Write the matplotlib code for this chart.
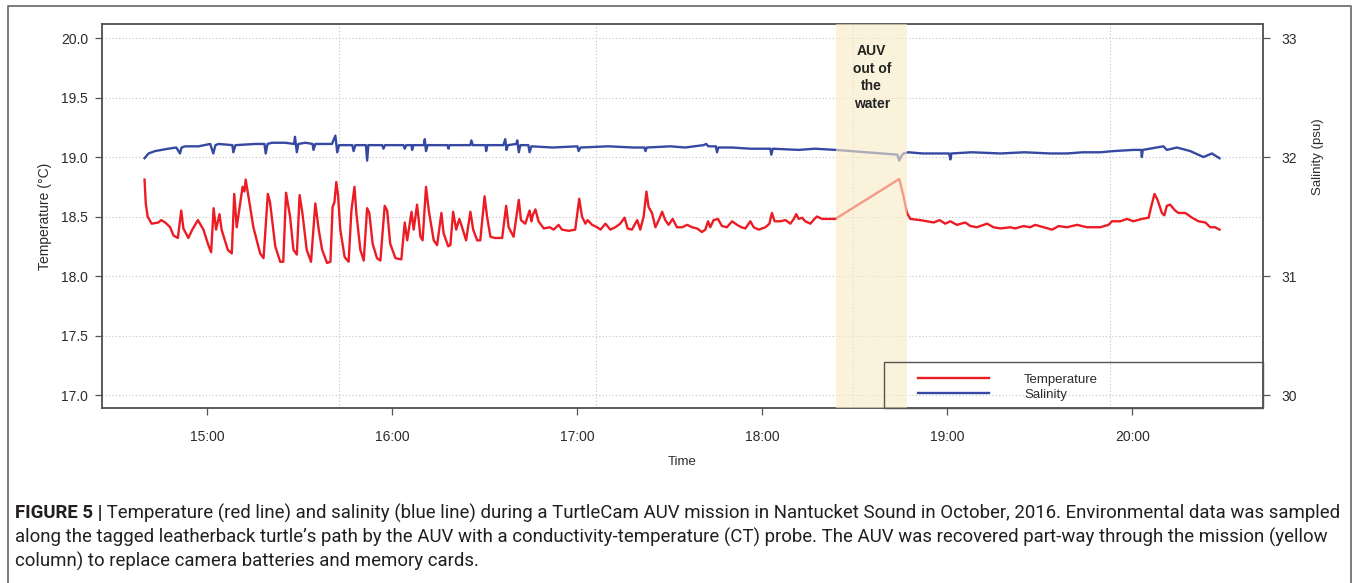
import matplotlib
matplotlib.use('Agg')
import matplotlib.pyplot as plt
from matplotlib.lines import Line2D
from matplotlib.patches import Rectangle

plt.rcParams['font.family'] = ['Liberation Sans', 'DejaVu Sans']

# ---------------- data (time in minutes after 14:00) ----------------
temp_minutes = [
    39.6, 40.0, 40.6, 41.9, 44.1, 45.0, 46.3, 47.9, 49.0, 50.4,
    51.5, 52.2, 53.8, 55.1, 56.9, 58.7, 60.3, 61.2, 62.0, 62.8,
    63.9, 64.6, 66.6, 67.9, 68.7, 69.5, 70.6, 71.4, 72.0, 72.4,
    73.3, 74.9, 77.1, 78.2, 79.6, 80.3, 82.0, 83.6, 84.6, 85.5,
    86.8, 87.9, 89.0, 89.9, 90.8, 92.2, 93.6, 95.0, 96.1, 97.2,
    98.8, 99.9, 100.6, 101.2, 101.8, 102.4, 103.1, 104.5, 105.8, 106.7,
    107.7, 108.3, 109.6, 110.7, 111.8, 112.5, 113.6, 115.0, 116.1, 117.5,
    118.3, 119.3, 121.0, 122.9, 124.0, 124.8, 126.2, 126.9, 128.0, 129.1,
    129.8, 130.9, 131.8, 133.4, 134.5, 135.9, 136.6, 138.1, 138.8, 139.7,
    140.7, 141.7, 142.6, 143.9, 145.3, 146.2, 147.5, 148.5, 149.9, 150.7,
    151.8, 153.2, 155.6, 156.9, 157.7, 159.3, 161.0, 161.7, 163.1, 164.5,
    165.1, 165.5, 166.4, 167.4, 169.1, 171.0, 172.3, 173.9, 175.0, 177.2,
    179.3, 180.6, 181.5, 182.6, 183.3, 184.8, 186.4, 187.5, 189.1, 190.7,
    192.3, 193.9, 195.3, 196.3, 197.7, 199.4, 200.4, 201.5, 202.4, 203.1,
    204.2, 205.3, 206.4, 207.5, 208.5, 209.6, 210.9, 212.3, 214.0, 215.6,
    217.2, 218.8, 220.4, 221.5, 222.4, 223.1, 224.2, 225.6, 226.9, 228.5,
    230.2, 231.8, 233.2, 234.5, 236.1, 237.2, 238.8, 241.0, 242.3, 243.1,
    244.0, 245.8, 247.5, 249.1, 250.2, 251.0, 251.8, 252.9, 253.9, 255.6,
    256.9, 257.7, 259.4, 262.6, 263.7, 284.4, 285.8, 286.9, 288.0, 291.2,
    293.4, 295.6, 297.5, 299.3, 301.0, 303.1, 305.8, 307.5, 309.6, 312.9,
    315.0, 317.2, 320.4, 322.0, 324.7, 326.9, 328.5, 331.2, 334.0, 336.1,
    338.8, 342.1, 345.3, 349.6, 352.3, 353.4, 356.1, 358.3, 360.4, 363.1,
    365.3, 366.1, 367.2, 368.2, 369.6, 370.4, 371.2, 372.3, 373.9, 375.0,
    377.2, 379.4, 381.5, 383.7, 385.3, 386.9, 388.3,
]
temp_values = [
    18.81, 18.61, 18.50, 18.44, 18.45, 18.47, 18.45, 18.41, 18.34, 18.32,
    18.55, 18.40, 18.32, 18.39, 18.47, 18.39, 18.26, 18.20, 18.57, 18.39,
    18.52, 18.39, 18.22, 18.19, 18.69, 18.41, 18.61, 18.75, 18.71, 18.81,
    18.67, 18.41, 18.19, 18.15, 18.69, 18.62, 18.25, 18.12, 18.12, 18.70,
    18.50, 18.22, 18.18, 18.68, 18.53, 18.22, 18.12, 18.61, 18.39, 18.22,
    18.11, 18.12, 18.58, 18.62, 18.79, 18.67, 18.39, 18.16, 18.12, 18.55,
    18.75, 18.53, 18.22, 18.13, 18.57, 18.53, 18.27, 18.15, 18.13, 18.59,
    18.55, 18.27, 18.15, 18.14, 18.45, 18.30, 18.54, 18.39, 18.60, 18.33,
    18.30, 18.75, 18.55, 18.30, 18.26, 18.53, 18.36, 18.25, 18.26, 18.54,
    18.39, 18.48, 18.41, 18.30, 18.54, 18.39, 18.30, 18.30, 18.67, 18.50,
    18.33, 18.32, 18.32, 18.59, 18.41, 18.33, 18.64, 18.47, 18.44, 18.55,
    18.46, 18.51, 18.56, 18.46, 18.40, 18.41, 18.39, 18.43, 18.39, 18.38,
    18.39, 18.65, 18.50, 18.44, 18.47, 18.43, 18.41, 18.39, 18.44, 18.39,
    18.41, 18.44, 18.49, 18.40, 18.39, 18.47, 18.39, 18.50, 18.71, 18.58,
    18.53, 18.41, 18.47, 18.54, 18.47, 18.43, 18.48, 18.41, 18.41, 18.43,
    18.41, 18.40, 18.37, 18.39, 18.46, 18.41, 18.47, 18.48, 18.42, 18.41,
    18.46, 18.43, 18.41, 18.40, 18.46, 18.41, 18.39, 18.41, 18.44, 18.53,
    18.46, 18.46, 18.47, 18.44, 18.48, 18.52, 18.48, 18.49, 18.46, 18.44,
    18.48, 18.50, 18.48, 18.48, 18.48, 18.815, 18.67, 18.53, 18.48, 18.47,
    18.46, 18.45, 18.47, 18.44, 18.46, 18.43, 18.45, 18.42, 18.41, 18.44,
    18.41, 18.40, 18.41, 18.40, 18.42, 18.41, 18.43, 18.41, 18.39, 18.42,
    18.41, 18.43, 18.41, 18.41, 18.43, 18.46, 18.46, 18.48, 18.46, 18.48,
    18.49, 18.58, 18.69, 18.64, 18.53, 18.51, 18.59, 18.60, 18.55, 18.53,
    18.53, 18.49, 18.46, 18.45, 18.41, 18.41, 18.39,
]

sal_minutes = [
    39.6, 40.9, 43.0, 45.2, 47.3, 49.9, 51.1, 51.6, 52.8, 57.1,
    60.9, 61.9, 62.6, 63.6, 68.1, 68.4, 69.1, 75.5, 78.5, 78.9,
    79.5, 80.9, 85.2, 88.1, 88.4, 89.0, 89.5, 91.7, 94.1, 94.4,
    95.0, 100.4, 101.5, 102.1, 102.7, 104.8, 107.0, 107.4, 108.0, 111.4,
    111.8, 112.2, 116.7, 117.1, 117.6, 123.6, 124.0, 124.5, 126.2, 126.4,
    126.8, 130.2, 130.5, 130.9, 131.4, 137.8, 138.2, 138.5, 145.3, 145.6,
    146.1, 150.2, 150.4, 150.8, 156.0, 156.6, 157.0, 157.5, 160.2, 160.5,
    161.0, 161.5, 164.1, 164.5, 165.1, 172.0, 180.0, 180.4, 181.0, 190.0,
    198.2, 201.7, 202.1, 202.5, 210.2, 215.0, 220.9, 221.8, 222.5, 224.9,
    225.3, 225.7, 230.2, 236.0, 241.0, 242.6, 242.9, 243.4, 251.8, 257.0,
    263.7, 283.8, 284.4, 285.1, 285.8, 287.4, 292.0, 295.6, 300.6, 301.0,
    301.3, 308.0, 317.2, 325.0, 333.4, 338.8, 344.0, 349.6, 353.9, 360.4,
    362.9, 363.1, 363.4, 370.1, 371.2, 374.5, 378.8, 383.1, 385.8, 388.3,
]
sal_values = [
    31.99, 32.03, 32.05, 32.06, 32.07, 32.08, 32.03, 32.08, 32.09, 32.09,
    32.11, 32.03, 32.10, 32.11, 32.10, 32.04, 32.10, 32.11, 32.11, 32.03,
    32.11, 32.12, 32.12, 32.11, 32.17, 32.04, 32.11, 32.12, 32.11, 32.06,
    32.11, 32.11, 32.18, 32.04, 32.10, 32.10, 32.10, 32.05, 32.10, 32.10,
    31.97, 32.10, 32.10, 32.07, 32.10, 32.10, 32.07, 32.10, 32.10, 32.06,
    32.10, 32.10, 32.15, 32.05, 32.10, 32.10, 32.07, 32.10, 32.10, 32.14,
    32.10, 32.10, 32.05, 32.10, 32.10, 32.15, 32.06, 32.10, 32.11, 32.14,
    32.04, 32.10, 32.10, 32.04, 32.09, 32.08, 32.09, 32.05, 32.08, 32.09,
    32.08, 32.08, 32.05, 32.08, 32.09, 32.08, 32.10, 32.11, 32.09, 32.09,
    32.04, 32.08, 32.08, 32.07, 32.07, 32.07, 32.02, 32.07, 32.06, 32.07,
    32.06, 32.02, 31.97, 32.01, 32.03, 32.04, 32.03, 32.03, 32.03, 31.98,
    32.03, 32.04, 32.03, 32.04, 32.03, 32.03, 32.04, 32.04, 32.05, 32.06,
    32.06, 32.00, 32.06, 32.09, 32.06, 32.08, 32.05, 32.00, 32.03, 31.99,
]
assert len(temp_minutes) == len(temp_values)
assert len(sal_minutes) == len(sal_values)

tick_minutes = [60, 120, 180, 240, 300, 360]
tick_labels = ['15:00', '16:00', '17:00', '18:00', '19:00', '20:00']
grid_minutes = [102.8, 186.2, 269.5, 352.8]
temp_ticks = [17.0, 17.5, 18.0, 18.5, 19.0, 19.5, 20.0]
sal_ticks = [30, 31, 32, 33]
recovery_start, recovery_end = 264.0, 287.0

# ---------------- layout helpers ----------------
W, H = 1358, 583
def fx(px):
    return px / W
def fy(py):
    return 1 - py / H

RED = '#EC1C24'
BLUE = '#3549A2'
TXT = '#2b2b2b'
SPINE = '#555555'

fig = plt.figure(figsize=(W / 100, H / 100), dpi=100)
fig.patch.set_facecolor('white')

ax = fig.add_axes([fx(102), fy(408), (1263 - 102) / W, (408 - 24) / H])
ax2 = ax.twinx()

l1, = ax.plot(temp_minutes, temp_values, color=RED, lw=1.7, zorder=2)
l2, = ax2.plot(sal_minutes, sal_values, color=BLUE, lw=1.7, zorder=2)

ax.set_xlim(25.8, 402.4)
ax.set_ylim(16.891, 20.118)
ax2.set_ylim(16.891 + 13, 20.118 + 13)

ax.set_xticks(tick_minutes, tick_labels)
ax.set_yticks(temp_ticks, [f"{v:.1f}" for v in temp_ticks])
ax2.set_yticks(sal_ticks, [str(v) for v in sal_ticks])

grid_kw = dict(color='#c4c4c4', lw=0.8, linestyle=(0, (1, 2)))
ax.set_axisbelow(True)
ax.grid(True, axis='y', **grid_kw)
for gm in grid_minutes:
    ax.axvline(gm, zorder=0.5, **grid_kw)

ax.tick_params(axis='x', length=5, width=0.9, color=SPINE, pad=11,
               labelsize=10, labelcolor=TXT)
ax.tick_params(axis='y', length=5, width=0.9, color=SPINE, pad=5,
               labelsize=10, labelcolor=TXT)
ax2.tick_params(axis='y', length=5, width=0.9, color=SPINE, pad=8,
                labelsize=10, labelcolor=TXT)
for a in (ax, ax2):
    for s in a.spines.values():
        s.set_color(SPINE)
        s.set_linewidth(1.1)

# recovery column (semi-transparent, drawn over lines)
ax2.axvspan(recovery_start, recovery_end, color='#F8EBC4', alpha=0.62,
            lw=0, zorder=3)
ax2.text((recovery_start + recovery_end) / 2, 32.668,
         'AUV\nout of\nthe\nwater', ha='center', va='center',
         fontsize=10, fontweight='bold', color='#222222', linespacing=1.35,
         zorder=6)

# legend
ax2.add_patch(Rectangle((0.6736, 0), 0.3264, 0.1198, transform=ax2.transAxes,
                        fill=False, edgecolor=SPINE, lw=1.0, clip_on=False,
                        zorder=5))
ax2.legend([l1, l2], ['Temperature', 'Salinity'], loc='upper left',
           bbox_to_anchor=(0.7028, 0.090), frameon=False, borderpad=0,
           borderaxespad=0, handlelength=5.4, handletextpad=2.65,
           labelspacing=0.2, fontsize=9.5, labelcolor=TXT)

# axis labels
fig.text(fx(45), fy(216), 'Temperature (°C)', rotation=90, ha='center',
         va='center', fontsize=10, color=TXT)
fig.text(fx(1318), fy(157), 'Salinity (psu)', rotation=90, ha='center',
         va='center', fontsize=9.5, color=TXT)
fig.text(fx(682), fy(462), 'Time', ha='center', va='center', fontsize=9.5,
         color=TXT)

# outer frame
fig.add_artist(Line2D([fx(8), fx(8), fx(1351), fx(1351)],
                      [fy(600), fy(6), fy(6), fy(600)],
                      transform=fig.transFigure, color='#666666', lw=1.2))

# caption
cap_color = '#231f20'
cap_family = ['Roboto', 'Liberation Sans', 'DejaVu Sans']
line1_rest = (' Temperature (red line) and salinity (blue line) during a TurtleCam AUV '
              'mission in Nantucket Sound in October, 2016. Environmental data was sampled')
line2 = ('along the tagged leatherback turtle\u2019s path by the AUV with a '
         'conductivity-temperature (CT) probe. The AUV was recovered part-way through '
         'the mission (yellow')
line3 = 'column) to replace camera batteries and memory cards.'

fs = 12.5
tb = fig.text(fx(15), fy(513), 'FIGURE 5 |', fontweight='bold', fontsize=fs,
              ha='left', va='center', color=cap_color, family=cap_family)
tr = fig.text(fx(15), fy(513), line1_rest, fontsize=fs, ha='left',
              va='center', color=cap_color, family=cap_family)
t2 = fig.text(fx(15), fy(537), line2, fontsize=fs, ha='left', va='center',
              color=cap_color, family=cap_family)
t3 = fig.text(fx(15), fy(561), line3, fontsize=fs, ha='left', va='center',
              color=cap_color, family=cap_family)
renderer = fig.canvas.get_renderer()
for _ in range(3):
    bb = tb.get_window_extent(renderer)
    tr.set_x(bb.x1 / W)
    br = tr.get_window_extent(renderer)
    total = br.x1 - bb.x0
    fs = fs * (1337 - 15) / total
    for t in (tb, tr, t2, t3):
        t.set_fontsize(fs)
bb = tb.get_window_extent(renderer)
tr.set_x(bb.x1 / W)

fig.savefig('out.png', dpi=100)
